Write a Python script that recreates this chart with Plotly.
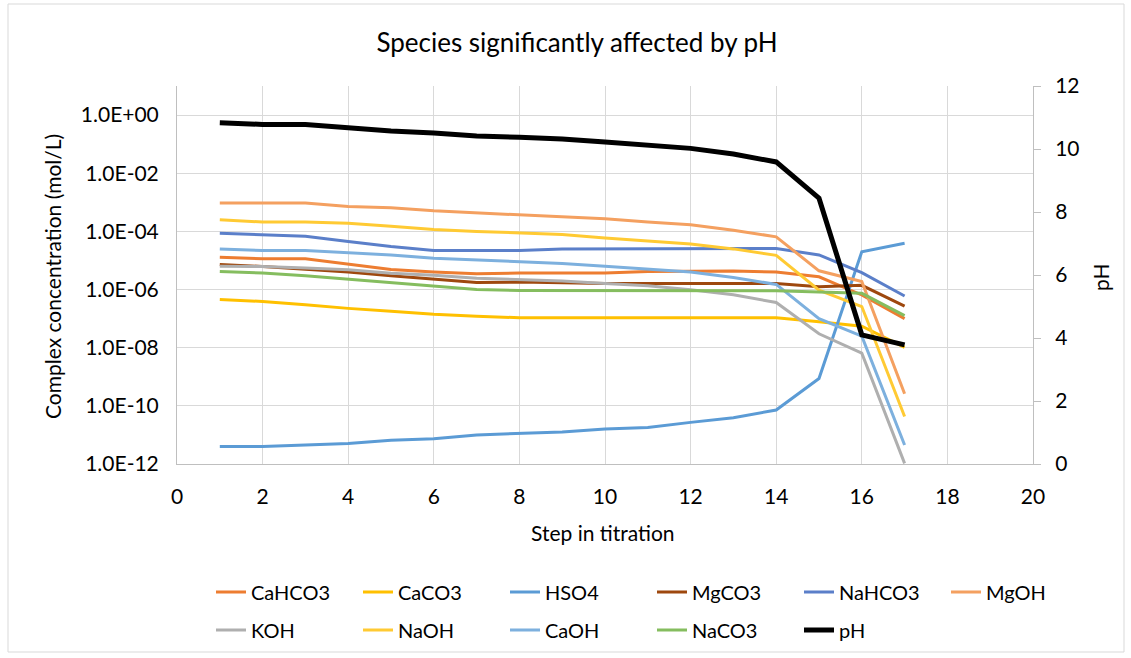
import plotly.graph_objects as go

steps = list(range(1, 18))

CaHCO3 = [1.3e-5, 1.15e-5, 1.15e-5, 7.6e-6, 4.9e-6, 4.0e-6, 3.5e-6, 3.7e-6, 3.7e-6, 3.7e-6, 4.2e-6, 4.3e-6, 4.3e-6, 4.0e-6, 2.75e-6, 6.5e-7, 1.0e-7]
CaCO3 = [4.5e-7, 3.9e-7, 3.0e-7, 2.25e-7, 1.8e-7, 1.4e-7, 1.2e-7, 1.07e-7, 1.07e-7, 1.07e-7, 1.07e-7, 1.07e-7, 1.07e-7, 1.07e-7, 7.8e-8, 5.5e-8, 1.02e-8]
HSO4 = [4.0e-12, 4.0e-12, 4.5e-12, 5.1e-12, 6.5e-12, 7.4e-12, 1.0e-11, 1.1e-11, 1.26e-11, 1.6e-11, 1.8e-11, 2.7e-11, 3.9e-11, 7.2e-11, 8.7e-10, 2.0e-5, 3.9e-5]
MgCO3 = [7.2e-6, 6.2e-6, 5.0e-6, 4.0e-6, 3.0e-6, 2.3e-6, 1.75e-6, 1.8e-6, 1.65e-6, 1.6e-6, 1.6e-6, 1.6e-6, 1.6e-6, 1.6e-6, 1.25e-6, 1.4e-6, 2.7e-7]
NaHCO3 = [8.7e-5, 7.8e-5, 6.8e-5, 4.5e-5, 3.0e-5, 2.2e-5, 2.2e-5, 2.2e-5, 2.5e-5, 2.5e-5, 2.5e-5, 2.5e-5, 2.5e-5, 2.6e-5, 1.55e-5, 3.8e-6, 6.0e-7]
MgOH = [9.5e-4, 9.5e-4, 9.5e-4, 7.2e-4, 6.5e-4, 5.1e-4, 4.4e-4, 3.7e-4, 3.1e-4, 2.7e-4, 2.1e-4, 1.7e-4, 1.1e-4, 6.5e-5, 4.4e-6, 1.9e-6, 2.6e-10]
KOH = [6.3e-6, 6.2e-6, 5.5e-6, 4.8e-6, 3.6e-6, 3.1e-6, 2.45e-6, 2.15e-6, 1.95e-6, 1.6e-6, 1.35e-6, 9.8e-7, 6.6e-7, 3.6e-7, 3.0e-8, 6.5e-9, 1.05e-12]
NaOH = [2.5e-4, 2.1e-4, 2.1e-4, 1.9e-4, 1.5e-4, 1.15e-4, 1.0e-4, 8.7e-5, 7.8e-5, 5.9e-5, 4.7e-5, 3.7e-5, 2.5e-5, 1.5e-5, 9.5e-7, 2.6e-7, 4.3e-11]
CaOH = [2.5e-5, 2.2e-5, 2.2e-5, 1.9e-5, 1.55e-5, 1.2e-5, 1.05e-5, 8.9e-6, 7.9e-6, 6.3e-6, 5.0e-6, 4.0e-6, 2.6e-6, 1.5e-6, 1.0e-7, 2.5e-8, 4.5e-12]
NaCO3 = [4.2e-6, 3.7e-6, 3.0e-6, 2.3e-6, 1.75e-6, 1.35e-6, 1.0e-6, 9.3e-7, 9.3e-7, 9.3e-7, 9.3e-7, 9.3e-7, 9.3e-7, 9.1e-7, 8.3e-7, 7.4e-7, 1.26e-7]
pH = [10.83, 10.78, 10.78, 10.68, 10.57, 10.51, 10.41, 10.37, 10.32, 10.22, 10.11, 10.02, 9.84, 9.59, 8.44, 4.10, 3.78]

left_tickvals = [1e0, 1e-2, 1e-4, 1e-6, 1e-8, 1e-10, 1e-12]
left_ticktext = ["1.0E+00", "1.0E-02", "1.0E-04", "1.0E-06", "1.0E-08", "1.0E-10", "1.0E-12"]

series = [
    ("CaHCO3", CaHCO3, "#ED7D31", "legend"),
    ("CaCO3", CaCO3, "#FFC000", "legend"),
    ("HSO4", HSO4, "#5B9BD5", "legend"),
    ("MgCO3", MgCO3, "#9E480E", "legend3"),
    ("NaHCO3", NaHCO3, "#5B7FC9", "legend3"),
    ("MgOH", MgOH, "#F4A060", "legend3"),
    ("KOH", KOH, "#AFAFAF", "legend2"),
    ("NaOH", NaOH, "#FFCA33", "legend2"),
    ("CaOH", CaOH, "#7DB0DE", "legend2"),
    ("NaCO3", NaCO3, "#85BD5F", "legend4"),
]

FONT = "Lato"
fig = go.Figure()
for name, vals, col, lg in series:
    fig.add_trace(go.Scatter(x=steps, y=vals, name=name, mode="lines",
                             line=dict(color=col, width=3), legend=lg, yaxis="y"))
fig.add_trace(go.Scatter(x=steps, y=pH, name="pH", mode="lines",
                         line=dict(color="#000000", width=5), legend="legend4", yaxis="y2"))

W, H = 1131, 658
L, R, T, B = 177, 98, 86, 194
pw, ph = W - L - R, H - T - B

def px_x(x):
    return (x - L) / pw

def px_y(y):
    return (H - B - y) / ph

SP = 147  # legend column spacing in px
EW = SP - 45

def leg(xpix, ypix):
    return dict(orientation="h", x=px_x(xpix), xanchor="left", y=px_y(ypix), yanchor="middle",
                entrywidth=EW, entrywidthmode="pixels", font=dict(size=20),
                bgcolor="rgba(0,0,0,0)", tracegroupgap=0, itemclick=False)

fig.update_layout(
    width=W, height=H,
    margin=dict(l=L, r=R, t=T, b=B, autoexpand=False),
    paper_bgcolor="white", plot_bgcolor="white",
    font=dict(family=FONT, size=21, color="#000000"),
    title=dict(text="Species significantly affected by pH", x=577 / W, xanchor="center",
               y=1 - 43 / H, yanchor="middle", font=dict(family=FONT, size=26, color="#000000")),
    xaxis=dict(range=[0, 20], dtick=2, tick0=0, showgrid=True, gridcolor="#D9D9D9", gridwidth=1,
               showline=True, linecolor="#BFBFBF", linewidth=1, ticks="", zeroline=False,
               ticklabelstandoff=14, tickfont=dict(size=21)),
    yaxis=dict(type="log", range=[-12, 1], tickvals=left_tickvals, ticktext=left_ticktext,
               showgrid=True, gridcolor="#D9D9D9", gridwidth=1, showline=True, linecolor="#BFBFBF",
               linewidth=1, ticks="", zeroline=False, ticklabelstandoff=13, tickfont=dict(size=21)),
    yaxis2=dict(range=[0, 12], dtick=2, tick0=0, overlaying="y", side="right", showgrid=False,
                showline=True, linecolor="#BFBFBF", linewidth=1, ticks="outside", ticklen=7,
                tickcolor="#BFBFBF", zeroline=False, ticklabelstandoff=10, tickfont=dict(size=21)),
    legend=leg(211, 592),
    legend3=leg(211 + 3 * SP, 592),
    legend2=leg(211, 630),
    legend4=leg(211 + 3 * SP, 630),
    showlegend=True,
    annotations=[
        dict(text="Step in titration", xref="paper", yref="paper", x=px_x(603), y=px_y(532),
             xanchor="center", yanchor="middle", showarrow=False, font=dict(size=21)),
        dict(text="Complex concentration (mol/L)", xref="paper", yref="paper", x=px_x(52), y=px_y(277),
             xanchor="center", yanchor="middle", showarrow=False, textangle=-90, font=dict(size=21)),
        dict(text="pH", xref="paper", yref="paper", x=px_x(1100), y=px_y(277),
             xanchor="center", yanchor="middle", showarrow=False, textangle=-90, font=dict(size=21)),
    ],
    shapes=[
        dict(type="rect", xref="paper", yref="paper", x0=px_x(8), x1=px_x(1124), y0=px_y(652), y1=px_y(4),
             line=dict(color="#D9D9D9", width=1), fillcolor="rgba(0,0,0,0)", layer="below"),
    ],
)

fig.write_html("out.html")
